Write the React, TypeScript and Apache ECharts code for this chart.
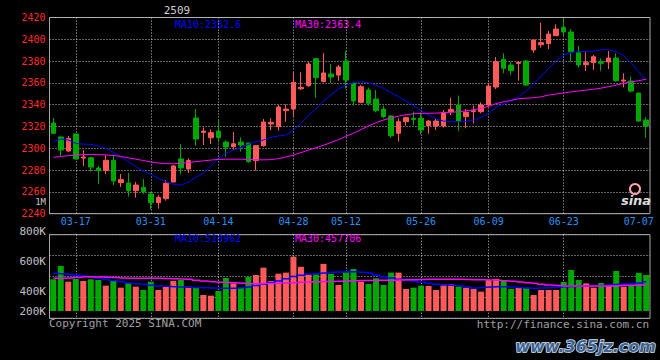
import React, { useEffect, useRef } from "react";
import * as echarts from "echarts";

// ---------- data ----------
const dates = [
  "03-12","03-13","03-14","03-17","03-18","03-19","03-20","03-21","03-24","03-25","03-26","03-27","03-28","03-31",
  "04-01","04-02","04-03","04-07","04-08","04-09","04-10","04-11","04-14","04-15","04-16","04-17","04-18","04-21","04-22","04-23","04-24","04-25","04-28","04-29","04-30",
  "05-06","05-07","05-08","05-09","05-12","05-13","05-14","05-15","05-16","05-19","05-20","05-21","05-22","05-23","05-26","05-27","05-28","05-29","05-30",
  "06-03","06-04","06-05","06-06","06-09","06-10","06-11","06-12","06-13","06-16","06-17","06-18","06-19","06-20","06-23","06-24","06-25","06-26","06-27","06-30",
  "07-01","07-02","07-03","07-04","07-07","07-08",
];

const opens = [
  2323.2, 2310.3, 2297.5, 2313.1, 2291.0, 2291.4, 2281.9, 2279.5, 2288.7, 2268.5,
  2268.2, 2261.1, 2264.2, 2258.1, 2250.1, 2253.8, 2269.1, 2290.2, 2281.0, 2327.8,
  2314.6, 2309.7, 2315.8, 2305.7, 2301.5, 2305.7, 2304.8, 2288.7, 2302.4, 2322.3,
  2319.8, 2334.5, 2336.0, 2354.6, 2357.4, 2382.2, 2361.2, 2368.2, 2367.2, 2380.1,
  2359.6, 2342.2, 2353.5, 2345.2, 2336.0, 2329.6, 2313.7, 2324.4, 2327.5, 2327.5,
  2320.8, 2320.5, 2320.5, 2333.6, 2339.7, 2329.0, 2333.6, 2333.6, 2339.7, 2356.2,
  2381.6, 2376.4, 2377.9, 2380.1, 2390.2, 2395.0, 2396.0, 2403.3, 2411.0, 2406.7,
  2387.7, 2376.7, 2378.6, 2379.5, 2379.2, 2382.8, 2361.7, 2361.7, 2350.7, 2326.0,
];
const closes = [
  2313.7, 2298.4, 2309.1, 2290.2, 2292.0, 2282.8, 2279.5, 2289.0, 2270.0, 2271.2,
  2261.1, 2266.3, 2260.2, 2250.1, 2255.0, 2267.9, 2283.8, 2281.9, 2288.7, 2308.5,
  2315.8, 2314.3, 2309.7, 2301.1, 2304.2, 2303.0, 2287.7, 2302.4, 2324.1, 2323.8,
  2337.9, 2336.0, 2360.5, 2355.9, 2377.3, 2364.8, 2369.1, 2365.4, 2374.6, 2362.6,
  2343.4, 2356.5, 2341.3, 2334.5, 2329.0, 2311.6, 2324.4, 2328.1, 2326.5, 2316.8,
  2325.0, 2325.0, 2332.7, 2335.7, 2325.0, 2333.0, 2334.5, 2339.7, 2357.1, 2379.4,
  2373.4, 2371.2, 2378.8, 2358.1, 2399.3, 2396.9, 2404.8, 2409.4, 2406.7, 2388.6,
  2376.4, 2378.6, 2384.0, 2378.0, 2382.8, 2362.0, 2362.6, 2352.5, 2325.0, 2320.5,
];
const lows = [
  2313.1, 2293.0, 2296.9, 2290.0, 2283.7, 2278.6, 2267.2, 2276.4, 2266.3, 2264.5,
  2255.6, 2254.7, 2258.1, 2244.0, 2244.6, 2252.0, 2268.8, 2276.4, 2277.3, 2302.4,
  2303.0, 2304.0, 2306.0, 2292.3, 2298.7, 2297.0, 2286.8, 2279.5, 2301.4, 2316.8,
  2316.2, 2324.4, 2329.0, 2353.4, 2356.5, 2346.4, 2360.5, 2359.9, 2362.0, 2354.7,
  2339.1, 2341.3, 2339.1, 2333.0, 2327.5, 2309.7, 2306.1, 2320.8, 2321.3, 2312.8,
  2313.4, 2316.8, 2318.9, 2330.5, 2315.8, 2318.3, 2322.9, 2332.1, 2338.2, 2354.4,
  2368.8, 2367.3, 2362.0, 2357.1, 2387.7, 2392.3, 2391.1, 2403.3, 2403.9, 2379.5,
  2374.0, 2370.9, 2371.8, 2371.2, 2372.7, 2361.1, 2355.9, 2351.0, 2324.4, 2309.8,
];
const highs = [
  2327.8, 2311.6, 2311.3, 2313.5, 2298.4, 2292.3, 2283.8, 2293.8, 2293.0, 2276.4,
  2277.3, 2269.1, 2271.8, 2260.2, 2257.2, 2270.9, 2284.7, 2303.9, 2290.8, 2336.0,
  2319.2, 2317.4, 2325.6, 2307.3, 2314.9, 2310.0, 2305.0, 2303.0, 2326.9, 2327.5,
  2339.7, 2340.3, 2369.7, 2369.7, 2379.4, 2382.8, 2387.4, 2377.3, 2376.4, 2389.2,
  2361.1, 2358.0, 2355.6, 2353.5, 2339.1, 2330.5, 2327.5, 2329.0, 2333.6, 2333.0,
  2326.0, 2326.9, 2335.1, 2346.4, 2348.3, 2336.0, 2339.1, 2342.2, 2360.2, 2383.7,
  2387.1, 2379.5, 2379.5, 2381.0, 2399.3, 2415.3, 2407.6, 2413.7, 2419.2, 2409.4,
  2393.8, 2388.0, 2385.6, 2382.5, 2389.3, 2387.1, 2368.8, 2365.7, 2350.7, 2328.7,
];

// volume, thousands of lots
const volumes = [
  555, 787, 513, 560, 525, 555, 542, 443, 525, 408,
  496, 426, 368, 513, 368, 426, 525, 542, 426, 408,
  280, 268, 350, 578, 484, 408, 595, 630, 758, 525,
  653, 671, 950, 773, 640, 640, 825, 650, 455, 677,
  735, 513, 473, 572, 455, 671, 672, 385, 408, 443,
  438, 368, 467, 467, 426, 408, 385, 338, 542, 560,
  525, 385, 408, 408, 280, 368, 368, 368, 508, 718,
  542, 484, 408, 490, 443, 700, 426, 443, 668, 630,
];

const priceMA10 = [
  2306.1, 2308.5, 2307.6, 2304.6, 2303.9, 2303.6, 2302.1, 2300.0, 2296.3, 2292.3,
  2287.7, 2283.1, 2279.2, 2276.1, 2272.4, 2269.4, 2267.0, 2266.3, 2268.8, 2273.5,
  2277.0, 2284.0, 2290.8, 2295.4, 2298.4, 2300.6, 2303.6, 2306.1, 2307.6, 2310.0,
  2311.3, 2312.2, 2316.8, 2322.9, 2330.5, 2336.0, 2343.4, 2348.9, 2354.4, 2358.0,
  2360.2, 2361.1, 2360.2, 2358.0, 2355.0, 2351.0, 2347.3, 2343.4, 2339.1, 2334.5,
  2330.5, 2326.9, 2325.0, 2324.4, 2324.4, 2324.7, 2325.9, 2328.4, 2332.1, 2338.0,
  2340.5, 2343.5, 2347.5, 2352.5, 2359.0, 2366.3, 2373.3, 2380.1, 2385.6, 2388.0,
  2388.6, 2388.9, 2389.2, 2390.4, 2390.4, 2388.6, 2384.9, 2377.9, 2370.3, 2362.6,
];
const priceMA30 = [
  2291.7, 2292.5, 2293.3, 2293.8, 2294.2, 2294.4, 2294.2, 2293.9, 2293.4, 2292.5,
  2291.3, 2290.0, 2288.8, 2287.5, 2286.5, 2285.9, 2285.8, 2286.2, 2286.9, 2287.8,
  2288.5, 2289.2, 2289.8, 2290.0, 2290.0, 2290.0, 2289.8, 2289.5, 2289.4, 2289.6,
  2290.5, 2292.0, 2293.8, 2296.0, 2298.4, 2300.5, 2302.8, 2305.3, 2308.0, 2311.0,
  2313.8, 2317.2, 2320.5, 2323.5, 2326.0, 2327.8, 2329.5, 2330.8, 2331.7, 2332.1,
  2332.1, 2332.3, 2332.7, 2333.1, 2333.6, 2334.4, 2335.3, 2336.6, 2338.5, 2341.0,
  2342.6, 2344.0, 2345.5, 2346.0, 2346.4, 2347.3, 2348.8, 2349.8, 2350.8, 2351.7,
  2352.6, 2353.4, 2354.2, 2355.2, 2356.6, 2358.0, 2359.5, 2361.0, 2362.0, 2363.4,
];
const volMA10 = [
  660, 652, 644, 628, 612, 592, 572, 553, 534, 512,
  490, 478, 467, 452, 438, 431, 425, 420, 415, 411,
  408, 402, 397, 397, 397, 408, 420, 446, 472, 498,
  525, 565, 604, 626, 648, 657, 665, 677, 683, 685,
  686, 676, 665, 632, 600, 578, 555, 540, 525, 505,
  485, 470, 455, 449, 443, 423, 403, 412, 420, 423,
  425, 418, 411, 404, 397, 402, 408, 416, 425, 430,
  434, 436, 438, 446, 455, 463, 472, 481, 490, 511,
];
const volMA30 = [
  572, 575, 578, 588, 598, 597, 595, 590, 586, 579,
  572, 572, 572, 572, 572, 568, 565, 560, 555, 540,
  525, 514, 504, 500, 495, 485, 476, 478, 481, 483,
  485, 490, 495, 502, 508, 512, 516, 518, 520, 525,
  530, 532, 534, 537, 539, 540, 542, 545, 548, 552,
  555, 555, 555, 555, 555, 552, 548, 545, 542, 536,
  530, 519, 508, 496, 485, 470, 455, 446, 438, 438,
  438, 438, 438, 438, 438, 444, 450, 452, 455, 458,
];

const labeledDates = ["03-17", "03-31", "04-14", "04-28", "05-12", "05-26", "06-09", "06-23", "07-07"];
const gridDates = ["03-17", "03-31", "04-14", "04-28", "05-12", "05-26", "06-09", "06-23"];
const priceAxis = { min: 2240, max: 2420, interval: 20 };
const volumeTickLabels = ["800K", "600K", "400K", "200K"];
const titleText = "2509";
const priceMA10Text = "MA10:2362.6";
const priceMA30Text = "MA30:2363.4";
const volMA10Text = "MA10:510962";
const volMA30Text = "MA30:457706";
const unitText = "1M";
const copyrightText = "Copyright 2025 SINA.COM";
const urlText = "http://finance.sina.com.cn";
const watermarkText = "www.365jz.com";

// ---------- styles ----------
const MONO = '"DejaVu Sans Mono", "Liberation Mono", monospace';
const UP = "#ff5a5a";
const DOWN = "#00a800";
const GRID_LINE = "#c4c4c4";
const FRAME = "#a8a8a8";

export default function App() {
  const ref = useRef<HTMLDivElement>(null);

  useEffect(() => {
    document.body.style.margin = "0";
    const chart = echarts.init(ref.current!, null, { renderer: "svg" });
    const labelSet = new Set(labeledDates);
    const gridSet = new Set(gridDates);

    const volTop = 234.7;
    const volHeight = 83.6;
    const volBaseY = 311; // bars start here
    const kPerPx = 17.5;
    const volMin = -(volTop + volHeight - volBaseY) * kPerPx;
    const volMax = (volBaseY - volTop) * kPerPx;

    const dotted = { color: GRID_LINE, type: [1, 2], width: 1 };
    const splitX = {
      show: true,
      alignWithLabel: true,
      interval: (_i: number, v: string) => gridSet.has(v),
      lineStyle: dotted,
    };

    const candle = dates.map((_, i) => [opens[i], closes[i], lows[i], highs[i]]);
    const volLabelY = [231, 261, 291, 311];

    const text = (t: string, x: number, y: number, fill: string, align = "left", font = `10px ${MONO}`) => ({
      type: "text",
      x,
      y,
      silent: true,
      style: { text: t, fill, font, textAlign: align, textVerticalAlign: "middle" },
    });

    chart.setOption({
      animation: false,
      backgroundColor: "#000000",
      grid: [
        { left: 49.5, top: 17.5, width: 600.5, height: 196.2, show: true, borderColor: FRAME, borderWidth: 1, backgroundColor: "transparent" },
        { left: 49.5, top: volTop, width: 600.5, height: volHeight, show: true, borderColor: FRAME, borderWidth: 1, backgroundColor: "transparent" },
      ],
      xAxis: [
        {
          type: "category",
          gridIndex: 0,
          data: dates,
          boundaryGap: true,
          axisLine: { show: false },
          axisTick: { show: false },
          axisLabel: {
            interval: (_i: number, v: string) => labelSet.has(v),
            color: "#2a90f0",
            fontFamily: MONO,
            fontSize: 10,
            margin: 3,
          },
          splitLine: splitX,
        },
        {
          type: "category",
          gridIndex: 1,
          data: dates,
          boundaryGap: true,
          axisLine: { show: false },
          axisTick: { show: false },
          axisLabel: { show: false },
          splitLine: splitX,
        },
      ],
      yAxis: [
        {
          type: "value",
          gridIndex: 0,
          min: priceAxis.min,
          max: priceAxis.max,
          interval: priceAxis.interval,
          axisLine: { show: false },
          axisTick: { show: false },
          axisLabel: {
            color: "#ff2a2a",
            fontFamily: MONO,
            fontSize: 10,
            margin: 4,
            formatter: (v: number) => String(v),
          },
          splitLine: { show: true, lineStyle: dotted },
        },
        {
          type: "value",
          gridIndex: 1,
          min: 0,
          max: 4,
          interval: 1,
          axisLine: { show: false },
          axisTick: { show: false },
          axisLabel: { show: false },
          splitLine: { show: true, lineStyle: dotted },
        },
        {
          type: "value",
          gridIndex: 1,
          min: volMin,
          max: volMax,
          show: false,
          splitLine: { show: false },
        },
      ],
      series: [
        {
          type: "candlestick",
          xAxisIndex: 0,
          yAxisIndex: 0,
          data: candle,
          barWidth: 5,
          itemStyle: { color: UP, color0: DOWN, borderColor: UP, borderColor0: DOWN, borderWidth: 1 },
        },
        {
          type: "line",
          xAxisIndex: 0,
          yAxisIndex: 0,
          data: priceMA10,
          showSymbol: false,
          lineStyle: { color: "#0000ff", width: 1 },
        },
        {
          type: "line",
          xAxisIndex: 0,
          yAxisIndex: 0,
          data: priceMA30,
          showSymbol: false,
          lineStyle: { color: "#ff00ff", width: 1 },
        },
        {
          type: "bar",
          xAxisIndex: 1,
          yAxisIndex: 2,
          data: volumes,
          barWidth: 6,
          itemStyle: {
            color: (p: any) => (closes[p.dataIndex] >= opens[p.dataIndex] ? UP : DOWN),
          },
        },
        {
          type: "line",
          xAxisIndex: 1,
          yAxisIndex: 2,
          data: volMA10,
          step: "middle",
          showSymbol: false,
          lineStyle: { color: "#0000ff", width: 1.5 },
        },
        {
          type: "line",
          xAxisIndex: 1,
          yAxisIndex: 2,
          data: volMA30,
          step: "middle",
          showSymbol: false,
          lineStyle: { color: "#ff00ff", width: 1.5 },
        },
      ],
      graphic: [
        text(titleText, 177, 10, "#d0d0d0", "center", `11px ${MONO}`),
        text(priceMA10Text, 175, 24, "#0000ff"),
        text(priceMA30Text, 295, 24, "#ff00ff"),
        text(unitText, 46, 202, "#c8c8c8", "right", `9px ${MONO}`),
        ...volumeTickLabels.map((t, i) => text(t, 46, volLabelY[i], "#c0c0c0", "right", `11px ${MONO}`)),
        text(volMA10Text, 175, 238, "#0000ff"),
        text(volMA30Text, 295, 238, "#ff00ff"),
        text(copyrightText, 49, 323, "#a0a0a0", "left", `11px ${MONO}`),
        text(urlText, 649, 324, "#a0a0a0", "right", `11px ${MONO}`),
        {
          type: "circle",
          silent: true,
          shape: { cx: 635, cy: 189, r: 5 },
          style: { fill: "none", stroke: "#ffa0b0", lineWidth: 2 },
        },
        text("sina", 636, 200, "#dcdcdc", "center", 'italic bold 13px "DejaVu Sans"'),
        {
          type: "text",
          x: 656,
          y: 346,
          silent: true,
          style: {
            text: watermarkText,
            fill: "#3c6394",
            stroke: "#dde6f0",
            lineWidth: 1.5,
            font: 'italic bold 16px "DejaVu Sans"',
            textAlign: "right",
            textVerticalAlign: "middle",
          },
        },
      ],
    });

    return () => chart.dispose();
  }, []);

  return (
    <div
      ref={ref}
      style={{ position: "fixed", left: 0, top: 0, width: 660, height: 360, background: "#000" }}
    />
  );
}
